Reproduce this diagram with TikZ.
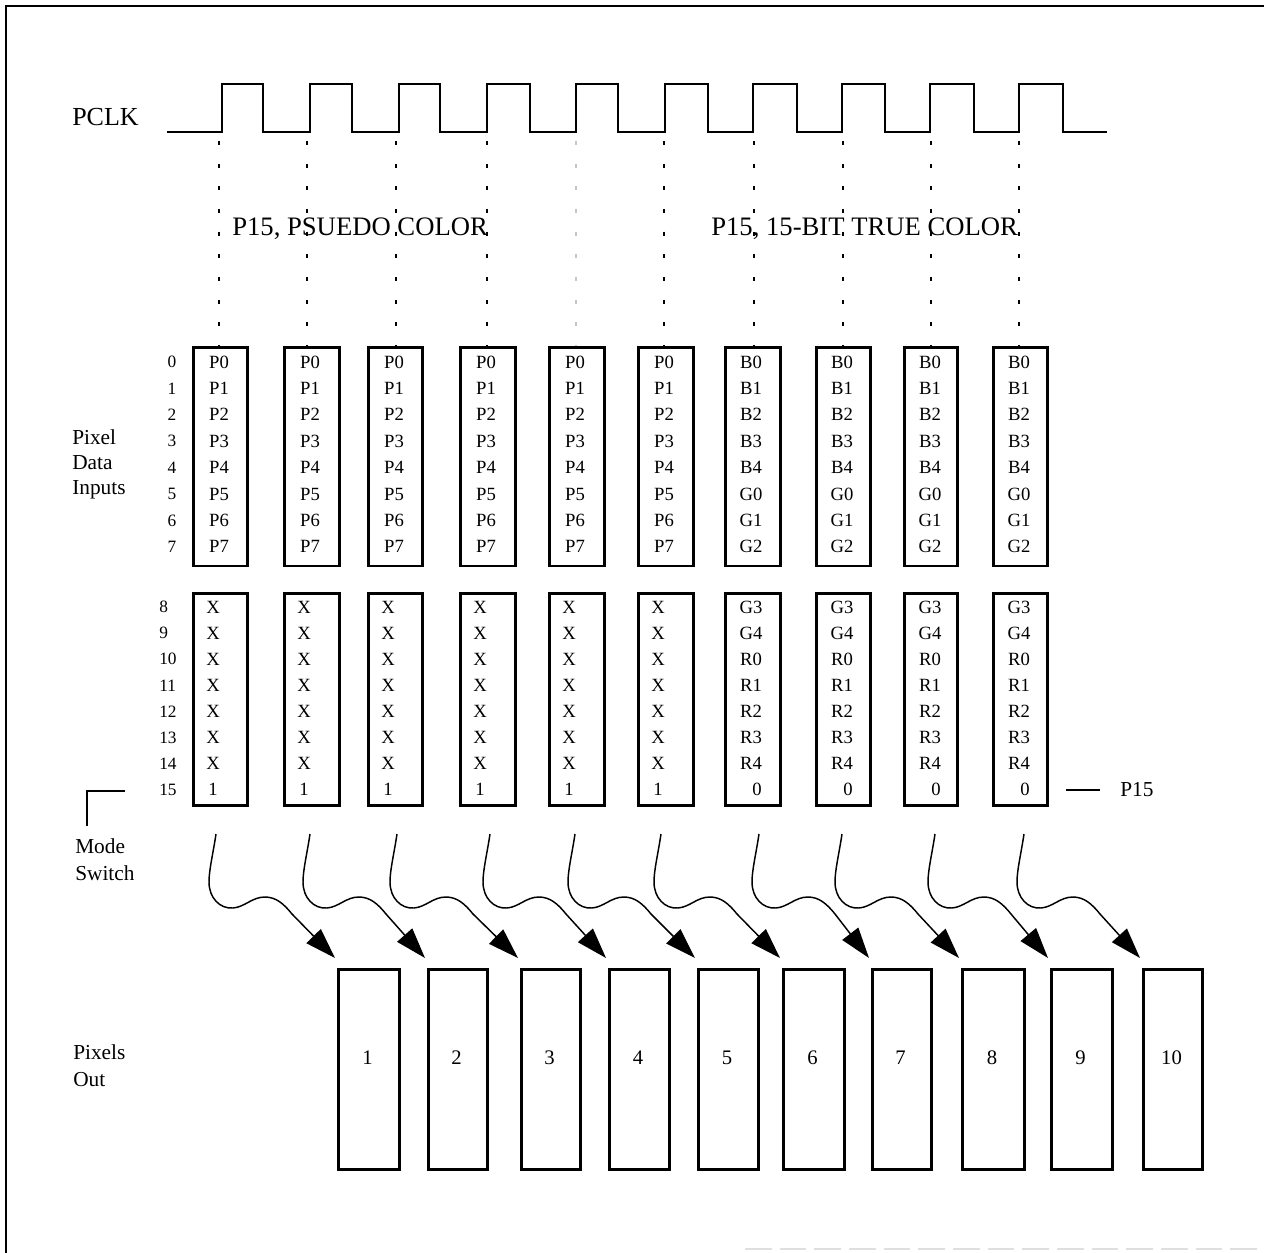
\documentclass[tikz,border=0pt]{standalone}
\usepackage{fontspec}
\setmainfont{Liberation Serif}
\usetikzlibrary{arrows.meta}
\begin{document}
\begin{tikzpicture}[x=0.75pt,y=-0.75pt,
  regbox/.style={draw, line width=2pt, inner sep=0pt, anchor=north west},
  outbox/.style={draw, line width=2pt, inner sep=0pt, anchor=north west, minimum height=150pt},
  cell/.style={inner sep=0pt, font=\fontsize{14}{15}\selectfont},
  bitnum/.style={inner sep=0pt, font=\fontsize{13}{14}\selectfont},
  lbl/.style={inner sep=0pt, anchor=west, font=\fontsize{16}{17}\selectfont},
  hdr/.style={inner sep=0pt, anchor=west, font=\fontsize{20}{21}\selectfont},
  outnum/.style={inner sep=0pt, font=\fontsize{15.5}{16}\selectfont},
  clk/.style={line width=2.2pt, line join=miter},
  guide/.style={line width=1.5pt, dash pattern=on 3pt off 14pt},
  wavy/.style={line width=1.1pt, -{Triangle[length=23pt,width=15pt]}},
  frame/.style={line width=1.5pt}]
\useasboundingbox (0,0) rectangle (1264,1253);
% frame
\draw[frame] (6,1253) -- (6,6) -- (1264,6);
\draw[gray!25, line width=1pt, dash pattern=on 20pt off 6pt] (745,1249) -- (1264,1249);
% clock
\node[lbl, font=\fontsize{19.5}{20}\selectfont] (pclk) at (72,117) {PCLK};
\draw[clk] (167,132)
  -- (222,132) -- (222,84) -- (263,84) -- (263,132)
  -- (310,132) -- (310,84) -- (352,84) -- (352,132)
  -- (399,132) -- (399,84) -- (440,84) -- (440,132)
  -- (487,132) -- (487,84) -- (530,84) -- (530,132)
  -- (576,132) -- (576,84) -- (618,84) -- (618,132)
  -- (665,132) -- (665,84) -- (708,84) -- (708,132)
  -- (753,132) -- (753,84) -- (797,84) -- (797,132)
  -- (842,132) -- (842,84) -- (885,84) -- (885,132)
  -- (930,132) -- (930,84) -- (974,84) -- (974,132)
  -- (1019,132) -- (1019,84) -- (1063,84) -- (1063,132)
  -- (1107,132);
% guide dots
\foreach \x in {219,307,396,487,664,754,843,931,1019}
  \draw[guide] (\x,141) -- (\x,347);
\draw[guide, gray!45] (576,141) -- (576,347);
\node[hdr] (h1) at (232,229) {P15, PSUEDO COLOR};
\node[hdr] (h2) at (711,229) {P15, 15-BIT TRUE COLOR};
% left labels
\node[lbl] (l1) at (72,437) {Pixel};
\node[lbl] (l2) at (72,463) {Data};
\node[lbl] (l3) at (72,490) {Inputs};
\node[lbl] (l4) at (75,846) {Mode};
\node[lbl] (l5) at (75,873) {Switch};
\node[lbl] (l6) at (73,1052) {Pixels};
\node[lbl] (l7) at (73,1080) {Out};
\draw[line width=1pt] (125,791) -- (87,791) -- (87,826);
% bit numbers
\foreach \k in {0,...,7}
  \node[bitnum] (n\k) at (172,{362+26.4*\k}) {\k};
\foreach \k in {8,...,15}
  \node[bitnum, anchor=west] (n\k) at (159,{607+26.1*(\k-8)}) {\k};
% register boxes
\foreach \i/\a/\b in {1/192/246, 2/283/338, 3/367/421, 4/459/514, 5/548/603, 6/637/692, 7/724/779, 8/815/869, 9/903/956, 10/992/1046} {
  \pgfmathsetmacro\w{(\b-\a)*0.75}
  \node[regbox, minimum width=\w pt, minimum height=164pt] (t\i) at (\a,346) {};
  \node[regbox, minimum width=\w pt, minimum height=159pt] (u\i) at (\a,592) {};
}
% pseudo colour contents
\foreach \i/\c in {1/219, 2/310, 3/394, 4/486, 5/575, 6/664} {
  \foreach \k in {0,...,7}
    \node[cell] (p\i-\k) at (\c,{362+26.4*\k}) {P\k};
  \foreach \k in {0,...,6}
    \node[cell] (x\i-\k) at (\c-6,{607+26.1*\k}) {X};
  \node[cell] (x\i-7) at (\c-6,{607+26.1*7}) {1};
}
% true colour contents
\foreach \i/\c in {7/751, 8/842, 9/930, 10/1019} {
  \foreach \k/\t in {0/B0,1/B1,2/B2,3/B3,4/B4,5/G0,6/G1,7/G2}
    \node[cell] (p\i-\k) at (\c,{362+26.4*\k}) {\t};
  \foreach \k/\t in {0/G3,1/G4,2/R0,3/R1,4/R2,5/R3,6/R4}
    \node[cell] (x\i-\k) at (\c,{607+26.1*\k}) {\t};
  \node[cell] (x\i-7) at (\c+6,{607+26.1*7}) {0};
}
\draw[line width=0.8pt] (1066,790) -- (1100,790);
\node[lbl] (p15) at (1120,790) {P15};
% output boxes
\foreach \i/\a/\b in {1/337/398, 2/427/486, 3/520/579, 4/608/668, 5/697/757, 6/782/843, 7/871/930, 8/961/1023, 9/1050/1111, 10/1142/1201} {
  \pgfmathsetmacro\w{(\b-\a)*0.75}
  \node[outbox, minimum width=\w pt] (o\i) at (\a,968) {};
  \node[outnum] (on\i) at ({(\a+\b)/2},1058) {\i};
}
% wavy arrows
\foreach \i/\s in {1/216, 2/310, 3/397, 4/490, 5/575, 6/661, 7/759, 8/842, 9/935, 10/1024} {
  \coordinate (s\i) at (\s,834);
  \begin{scope}[shift={(s\i)}]
    \draw[wavy] (0,0) .. controls (-3,20) and (-7,36) .. (-7,48)
      .. controls (-7,64) and (4,75) .. (17,74)
      .. controls (29,73) and (36,63) .. (49,63)
      .. controls (60,63) and (68,70) .. (76,80)
      -- ([shift={(-2,-10)}]o\i.north west);
  \end{scope}
}
\end{tikzpicture}
\end{document}
